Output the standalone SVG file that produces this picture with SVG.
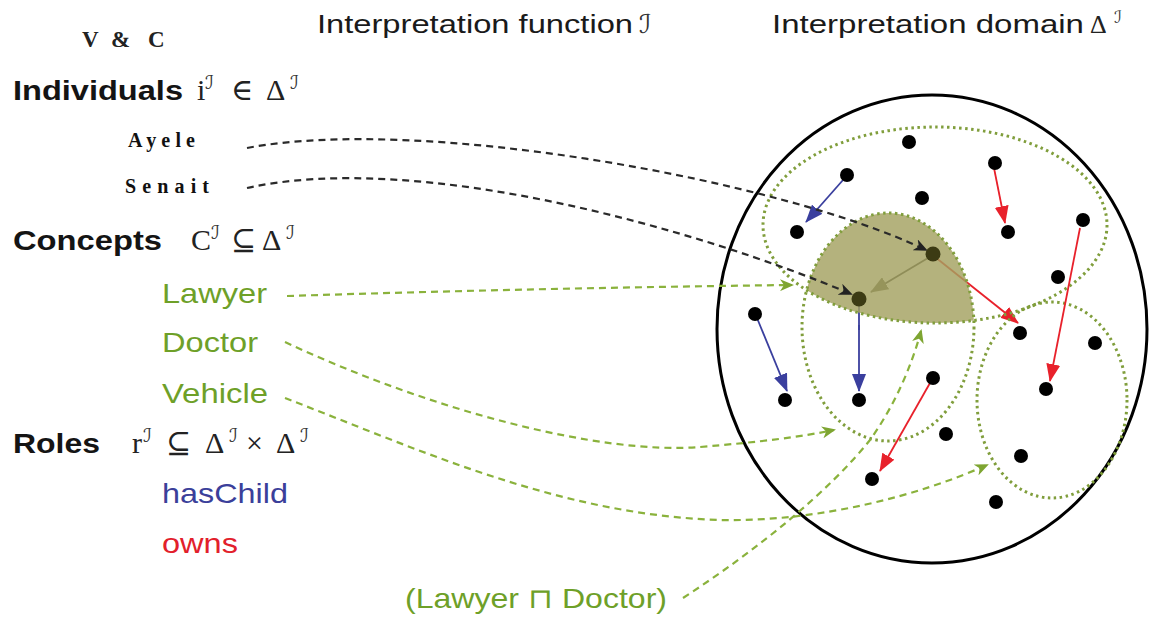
<svg xmlns="http://www.w3.org/2000/svg" width="1151" height="621" viewBox="0 0 1151 621">
<style>
.hd{font-family:"Liberation Sans",Arial,sans-serif;font-weight:bold;font-size:28px;fill:#141414}
.ti{font-family:"Liberation Sans",Arial,sans-serif;font-size:26px;fill:#1a1a1a}
.gt{font-family:"Liberation Sans",Arial,sans-serif;font-size:28px;fill:#6ea028}
.bt{font-family:"Liberation Sans",Arial,sans-serif;font-size:28px;fill:#3b3f9a}
.rt{font-family:"Liberation Sans",Arial,sans-serif;font-size:28px;fill:#e2202b}
.mt{font-family:"Liberation Serif","DejaVu Serif",serif;font-size:30px;fill:#222}
.sc{font-family:"DejaVu Sans","DejaVu Serif",sans-serif;font-size:19px;fill:#333}
.ind{font-family:"Liberation Serif","Times New Roman",serif;font-weight:bold;font-size:20px;fill:#111}
.vc{font-family:"Liberation Serif","Times New Roman",serif;font-weight:bold;font-size:23px;fill:#222}
.dotted{fill:none;stroke:#809e3c;stroke-width:3;stroke-dasharray:2.5 3.5}
.gd{fill:none;stroke:#8ab23c;stroke-width:2.2;stroke-dasharray:7 5;marker-end:url(#chevG)}
.kd{fill:none;stroke:#2a2a2a;stroke-width:2.2;stroke-dasharray:7 5;marker-end:url(#chevK)}
.bl{stroke:#3a3f9e;stroke-width:1.8;marker-end:url(#triB)}
.rd{stroke:#e8212b;stroke-width:1.8;marker-end:url(#triR)}
.dot{fill:#000}
.odot{fill:#3c3b14}
</style>
<defs>
<marker id="chevG" viewBox="0 0 14 12" refX="12" refY="6" markerWidth="14" markerHeight="12" markerUnits="userSpaceOnUse" orient="auto"><path d="M0,0 L14,6 L0,12 L4,6 z" fill="#7ea532"/></marker>
<marker id="chevK" viewBox="0 0 14 12" refX="12" refY="6" markerWidth="14" markerHeight="12" markerUnits="userSpaceOnUse" orient="auto"><path d="M0,0 L14,6 L0,12 L4,6 z" fill="#222"/></marker>
<marker id="triB" viewBox="0 0 18 14" refX="17" refY="7" markerWidth="18" markerHeight="14" markerUnits="userSpaceOnUse" orient="auto"><path d="M0,0 L18,7 L0,14 z" fill="#3a3f9e"/></marker>
<marker id="triR" viewBox="0 0 18 14" refX="17" refY="7" markerWidth="18" markerHeight="14" markerUnits="userSpaceOnUse" orient="auto"><path d="M0,0 L18,7 L0,14 z" fill="#e8212b"/></marker>
<marker id="triG" viewBox="0 0 18 14" refX="17" refY="7" markerWidth="18" markerHeight="14" markerUnits="userSpaceOnUse" orient="auto"><path d="M0,0 L18,7 L0,14 z" fill="#5c5b45"/></marker>
<clipPath id="clipA"><ellipse cx="935" cy="225" rx="172" ry="98"/></clipPath>
</defs>
<rect width="1151" height="621" fill="#fff"/>

<g id="titles">
<text class="vc" y="47"><tspan x="82">V</tspan><tspan x="111">&amp;</tspan><tspan x="148">C</tspan></text>
<text class="ti" x="317" y="33" textLength="316" lengthAdjust="spacingAndGlyphs">Interpretation function</text>
<text class="sc" x="639" y="33" style="font-size:26px">ℐ</text>
<text class="ti" x="772" y="33" textLength="312" lengthAdjust="spacingAndGlyphs">Interpretation domain</text>
<text class="mt" x="1090" y="33" style="font-size:26px">Δ</text>
<text class="sc" x="1114" y="23" style="font-size:17px">ℐ</text>
</g>

<g id="individuals-label">
<text class="hd" x="13" y="100" textLength="170" lengthAdjust="spacingAndGlyphs">Individuals</text>
<text class="mt" x="197" y="100">i</text><text class="sc" x="205" y="89">ℐ</text>
<text class="mt" x="231" y="100">∈</text>
<text class="mt" x="266" y="100">Δ</text><text class="sc" x="290" y="89">ℐ</text>
</g>
<g id="ayele"><text class="ind" x="128" y="147" textLength="67" lengthAdjust="spacing">Ayele</text></g>
<g id="senait"><text class="ind" x="125" y="193" textLength="84" lengthAdjust="spacing">Senait</text></g>

<g id="concepts-label">
<text class="hd" x="13" y="250" textLength="149" lengthAdjust="spacingAndGlyphs">Concepts</text>
<text class="mt" x="191" y="250">C</text><text class="sc" x="211" y="239">ℐ</text>
<text class="mt" x="231" y="250">⊆</text>
<text class="mt" x="262" y="250">Δ</text><text class="sc" x="286" y="239">ℐ</text>
</g>
<g id="lawyer"><text class="gt" x="162" y="303" textLength="105" lengthAdjust="spacingAndGlyphs">Lawyer</text></g>
<g id="doctor"><text class="gt" x="162" y="352" textLength="96" lengthAdjust="spacingAndGlyphs">Doctor</text></g>
<g id="vehicle"><text class="gt" x="162" y="403" textLength="106" lengthAdjust="spacingAndGlyphs">Vehicle</text></g>

<g id="roles-label">
<text class="hd" x="13" y="453" textLength="87" lengthAdjust="spacingAndGlyphs">Roles</text>
<text class="mt" x="132" y="453">r</text><text class="sc" x="143" y="442">ℐ</text>
<text class="mt" x="166" y="453">⊆</text>
<text class="mt" x="205" y="453">Δ</text><text class="sc" x="229" y="442">ℐ</text>
<text class="mt" x="246" y="453">×</text>
<text class="mt" x="276" y="453">Δ</text><text class="sc" x="300" y="442">ℐ</text>
</g>
<g id="haschild"><text class="bt" x="162" y="503" textLength="126" lengthAdjust="spacingAndGlyphs">hasChild</text></g>
<g id="owns"><text class="rt" x="162" y="553" textLength="76" lengthAdjust="spacingAndGlyphs">owns</text></g>
<g id="lawyer-and-doctor"><text class="gt" x="405" y="608" textLength="262" lengthAdjust="spacingAndGlyphs">(Lawyer ⊓ Doctor)</text></g>

<g id="domain">
<ellipse cx="932" cy="329" rx="215" ry="234" fill="none" stroke="#000" stroke-width="3"/>
</g>

<g id="under-shade">
<line class="rd" x1="935" y1="257" x2="1018" y2="323"/>
<line x1="928" y1="258" x2="871" y2="292" stroke="#333" stroke-width="1.8" marker-end="url(#triG)"/>
<line x1="859" y1="303" x2="859" y2="330" stroke="#3a3f9e" stroke-width="1.8"/>
</g>

<g id="lawyer-doctor-region">
<ellipse cx="888" cy="327" rx="86" ry="114" fill="#a4a160" fill-opacity="0.82" clip-path="url(#clipA)"/>
</g>
<g id="lawyer-set"><ellipse class="dotted" cx="935" cy="225" rx="172" ry="98"/></g>
<g id="doctor-set"><ellipse class="dotted" cx="888" cy="327" rx="86" ry="114"/></g>
<g id="vehicle-set"><ellipse class="dotted" cx="1052" cy="400" rx="75" ry="98"/></g>

<g id="connectors">
<line class="bl" x1="843" y1="180" x2="806" y2="222"/>
<line class="bl" x1="757" y1="318" x2="787" y2="391"/>
<line class="bl" x1="859" y1="325" x2="859" y2="391"/>
<line class="rd" x1="994" y1="168" x2="1005" y2="223"/>
<line class="rd" x1="1080" y1="228" x2="1050" y2="381"/>
<line class="rd" x1="930" y1="383" x2="880" y2="471"/>
<path class="kd" d="M247,148 C420,115 780,180 926,250"/>
<path class="kd" d="M247,188 C420,150 700,230 851,294"/>
<path class="gd" d="M287,296 Q540,288 792,285"/>
<path class="gd" d="M285,342 C430,410 600,455 700,447 C760,442 800,437 834,430"/>
<path class="gd" d="M285,398 C420,450 560,515 720,520 C820,522 920,495 987,465"/>
<path class="gd" d="M683,598 C760,548 830,490 870,440 C895,405 912,365 921,331"/>
</g>

<g id="elements">
<circle class="dot" cx="909" cy="142" r="7"/>
<circle class="dot" cx="847" cy="175" r="7"/>
<circle class="dot" cx="995" cy="163" r="7"/>
<circle class="dot" cx="922" cy="198" r="7"/>
<circle class="dot" cx="797" cy="232" r="7"/>
<circle class="dot" cx="1008" cy="232" r="7"/>
<circle class="dot" cx="1083" cy="220" r="7"/>
<circle class="odot" cx="933" cy="254" r="7.5"/>
<circle class="odot" cx="859" cy="299" r="7.5"/>
<circle class="dot" cx="1058" cy="277" r="7"/>
<circle class="dot" cx="755" cy="314" r="7"/>
<circle class="dot" cx="1020" cy="333" r="7"/>
<circle class="dot" cx="1095" cy="343" r="7"/>
<circle class="dot" cx="933" cy="378" r="7"/>
<circle class="dot" cx="785" cy="400" r="7"/>
<circle class="dot" cx="859" cy="400" r="7"/>
<circle class="dot" cx="1046" cy="389" r="7"/>
<circle class="dot" cx="946" cy="434" r="7"/>
<circle class="dot" cx="1021" cy="456" r="7"/>
<circle class="dot" cx="872" cy="479" r="7"/>
<circle class="dot" cx="996" cy="502" r="7"/>
</g>
</svg>
